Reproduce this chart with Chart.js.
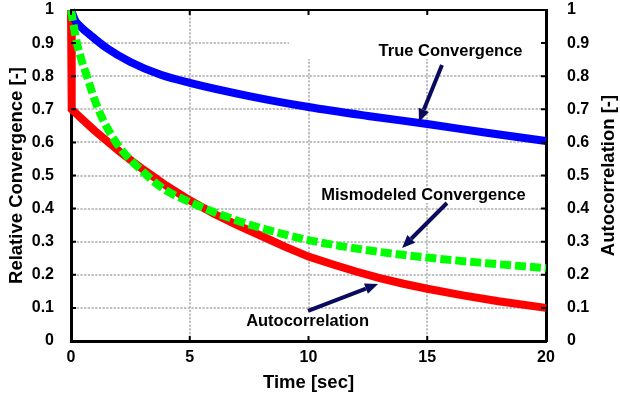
<!DOCTYPE html>
<html>
<head>
<meta charset="utf-8">
<script src="https://cdn.jsdelivr.net/npm/chart.js@4"></script>
<style>
  html, body { margin: 0; padding: 0; background: #fff; }
</style>
</head>
<body>
<canvas id="c" width="620" height="399"></canvas>
<script>
'use strict';

// ── Data ─────────────────────────────────────────────────────────────────────
const trueTime = [0, 0.2, 0.4, 0.8, 1.5, 2.5, 3.75, 5, 7.5, 10, 12.5, 15, 17.5, 20];
const trueConv = [1, 0.965, 0.95, 0.925, 0.885, 0.843, 0.805, 0.78, 0.74, 0.707, 0.68, 0.6555, 0.629, 0.604];

const misTime  = [0, 0.25, 0.67, 1.15, 1.9, 3.2, 4, 5, 6, 7.5, 10, 12.5, 15, 17.5, 20];
const misConv  = [1, 0.9, 0.8, 0.7, 0.6, 0.5, 0.455, 0.42, 0.39, 0.352, 0.305, 0.274, 0.252, 0.235, 0.22];

const acTime   = [0, 0.03, 0.5, 1, 1.5, 2, 2.5, 3, 3.5, 4, 5, 6, 7, 8, 9, 10, 11, 12, 13, 14, 15, 16.5, 18, 20];
const acVal    = [1, 0.7, 0.668, 0.635, 0.605, 0.575, 0.547, 0.52, 0.495, 0.47, 0.425, 0.385, 0.35, 0.318, 0.285, 0.255, 0.232, 0.21, 0.19, 0.173, 0.158, 0.138, 0.12, 0.1];

const xTickLabels = ['0', '5', '10', '15', '20'];
const yTickLabels = ['0', '0.1', '0.2', '0.3', '0.4', '0.5', '0.6', '0.7', '0.8', '0.9', '1'];

// ── Style ────────────────────────────────────────────────────────────────────
const FAMILY    = '"Liberation Sans", Arial, sans-serif';
const GRID      = '#c0c0c0';
const ARROW     = '#0b0b5e';
const tickFont  = { family: FAMILY, size: 16, weight: 'bold' };
const titleFont = { family: FAMILY, size: 18.5, weight: 'bold' };
const NOTE_FONT = `bold 16.5px ${ FAMILY }`;

// text notes with arrows, placed in data units (time, value)
const notes = [
  { text: 'True Convergence',       at: [15.98, 0.876], from: [15.62, 0.834], to: [14.65, 0.662], box: [9.18, 20, 0.852, 1] },
  { text: 'Mismodeled Convergence', at: [14.84, 0.441], from: [15.83, 0.417], to: [13.94, 0.281], pad: [8, 8] },
  { text: 'Autocorrelation',        at: [9.96, 0.060],  from: [9.98, 0.091],  to: [12.93, 0.172], pad: [10, 18] },
];

const pts = (ts, vs) => ts.map((t, i) => ({ x: t, y: vs[i] }));

function drawArrow(ctx, x0, y0, x1, y1) {
  const a = Math.atan2(y1 - y0, x1 - x0), L = 13, W = 5.5;
  const bx = x1 - L * Math.cos(a), by = y1 - L * Math.sin(a);
  ctx.beginPath(); ctx.moveTo(x0, y0); ctx.lineTo(bx, by); ctx.stroke();
  ctx.beginPath();
  ctx.moveTo(x1, y1);
  ctx.lineTo(bx + W * Math.sin(a), by - W * Math.cos(a));
  ctx.lineTo(bx - W * Math.sin(a), by + W * Math.cos(a));
  ctx.closePath(); ctx.fill();
}

// ── Plugin: white label boxes, frame, inner tick marks, arrows, right title ─
const annotate = {
  id: 'annotate',
  beforeDatasetsDraw(chart) {
    const { ctx, chartArea: ca, scales: { x, y } } = chart;
    ctx.save();
    ctx.fillStyle = '#fff';
    ctx.font = NOTE_FONT;
    notes.forEach(n => {
      let x0, x1, y0, y1;
      if (n.box) {
        x0 = x.getPixelForValue(n.box[0]); x1 = x.getPixelForValue(n.box[1]) - 2;
        y0 = y.getPixelForValue(n.box[3]) + 2; y1 = y.getPixelForValue(n.box[2]);
      } else {
        const w  = ctx.measureText(n.text).width;
        const cx = x.getPixelForValue(n.at[0]), cy = y.getPixelForValue(n.at[1]);
        x0 = cx - w / 2 - 3; x1 = cx + w / 2 + 3;
        y0 = cy - n.pad[0];  y1 = Math.min(cy + n.pad[1], ca.bottom - 2);
      }
      ctx.fillRect(x0, y0, x1 - x0, y1 - y0);
    });
    ctx.restore();
  },
  afterDatasetsDraw(chart) {
    const { ctx, chartArea: ca, scales: { x, y } } = chart;
    ctx.save();

    // top frame
    ctx.strokeStyle = '#000';
    ctx.lineWidth = 2;
    ctx.beginPath(); ctx.moveTo(ca.left, ca.top); ctx.lineTo(ca.right, ca.top); ctx.stroke();

    // inward tick marks
    yTickLabels.forEach(l => {
      const py = y.getPixelForValue(Number(l));
      ctx.beginPath();
      ctx.moveTo(ca.left, py);  ctx.lineTo(ca.left + 5, py);
      ctx.moveTo(ca.right, py); ctx.lineTo(ca.right - 5, py);
      ctx.stroke();
    });
    xTickLabels.forEach(l => {
      const px = x.getPixelForValue(Number(l));
      ctx.beginPath();
      ctx.moveTo(px, ca.bottom); ctx.lineTo(px, ca.bottom - 5);
      ctx.moveTo(px, ca.top);    ctx.lineTo(px, ca.top + 5);
      ctx.stroke();
    });

    // arrows + note text
    ctx.strokeStyle = ARROW;
    ctx.fillStyle = ARROW;
    ctx.lineWidth = 4;
    notes.forEach(n => {
      drawArrow(ctx,
        x.getPixelForValue(n.from[0]), y.getPixelForValue(n.from[1]),
        x.getPixelForValue(n.to[0]),   y.getPixelForValue(n.to[1]));
    });
    ctx.fillStyle = '#000';
    ctx.font = NOTE_FONT;
    ctx.textAlign = 'center';
    ctx.textBaseline = 'middle';
    notes.forEach(n => {
      ctx.fillText(n.text, x.getPixelForValue(n.at[0]), y.getPixelForValue(n.at[1]));
    });

    // right axis title, reads bottom-to-top like the left one
    ctx.font = `bold ${ titleFont.size }px ${ FAMILY }`;
    ctx.translate(609, (ca.top + ca.bottom) / 2);
    ctx.rotate(-Math.PI / 2);
    ctx.fillText('Autocorrelation [-]', 0, 0);
    ctx.restore();
  }
};

// ── Chart ────────────────────────────────────────────────────────────────────
const lineDs = (data, color, extra) => Object.assign({
  data,
  borderColor: color,
  borderWidth: 8,
  pointRadius: 0,
  fill: false,
  clip: 4,
  cubicInterpolationMode: 'monotone',
  xAxisID: 'x',
  yAxisID: 'y',
}, extra);

// keep the plot box fixed: 71px left axis, 74px right axis, 58px bottom axis
const fixV = w => s => { s.width = w; s.paddingTop = 10; s.paddingBottom = 0; };

new Chart(document.getElementById('c'), {
  type: 'line',
  data: {
    datasets: [
      lineDs(pts(misTime, misConv), '#00ff00', { borderDash: [11, 4] }),
      lineDs(pts(trueTime, trueConv), '#0000ff'),
      // sharp corner at 0.7, so straight segments between close points
      lineDs(pts(acTime, acVal), '#ff0000', { cubicInterpolationMode: 'default', tension: 0 }),
    ]
  },
  options: {
    responsive: false,
    animation: false,
    layout: { padding: { top: 10, left: 0, right: 0, bottom: 0 } },
    plugins: { legend: { display: false }, tooltip: { enabled: false } },
    scales: {
      x: {
        type: 'linear', position: 'bottom', min: 0, max: 20,
        afterFit: s => { s.height = 58; s.paddingLeft = 0; s.paddingRight = 0; },
        afterBuildTicks: s => { s.ticks = xTickLabels.map(l => ({ value: Number(l) })); },
        ticks: { font: tickFont, color: '#000', padding: 7, maxRotation: 0, callback: (v, i) => xTickLabels[i] },
        grid: { color: GRID, lineWidth: 2, drawTicks: false },
        border: { color: '#000', width: 3, dash: [2.3, 1.4] },
        title: { display: true, text: 'Time [sec]', font: titleFont, color: '#000', padding: { top: 0, bottom: 5 } },
      },
      y: {
        position: 'left', min: 0, max: 1,
        afterFit: fixV(71),
        afterBuildTicks: s => { s.ticks = yTickLabels.map(l => ({ value: Number(l) })); },
        ticks: { font: tickFont, color: '#000', padding: 17, callback: (v, i) => yTickLabels[i] },
        grid: { color: GRID, lineWidth: 2, drawTicks: false },
        border: { color: '#000', width: 3, dash: [2.3, 1.4] },
        title: { display: true, text: 'Relative Convergence [-]', font: titleFont, color: '#000', padding: { top: 6, bottom: 0 } },
      },
      y1: {
        position: 'right', min: 0, max: 1,
        afterFit: fixV(74),
        afterBuildTicks: s => { s.ticks = yTickLabels.map(l => ({ value: Number(l) })); },
        ticks: { font: tickFont, color: '#000', padding: 21, callback: (v, i) => yTickLabels[i] },
        grid: { display: false, drawTicks: false },
        border: { color: '#000', width: 3 },
      },
    },
  },
  plugins: [annotate],
});
</script>
</body>
</html>
